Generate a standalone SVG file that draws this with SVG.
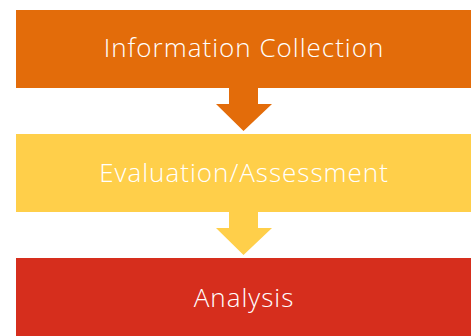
<svg xmlns="http://www.w3.org/2000/svg" width="471" height="336" viewBox="0 0 471 336">
<style>
.lbl{font-family:"Open Sans","Lato","Liberation Sans",sans-serif;font-weight:300;font-size:26px;letter-spacing:1px;fill:#ffffff;text-anchor:middle}
</style>
<rect width="471" height="336" fill="#ffffff"/>
<g id="connectors">
<polygon points="229,88 258,88 258,104 272,104 243.5,131 216,104 229,104" fill="#E36C0A"/>
<polygon points="229,212 258,212 258,228 272,228 243.5,255 216,228 229,228" fill="#FFCF4A"/>
</g>
<g id="node-information-collection">
<rect x="16" y="10" width="455" height="78" fill="#E36C0A"/>
<text class="lbl" x="244" y="57">Information Collection</text>
</g>
<g id="node-evaluation-assessment">
<rect x="16" y="134" width="455" height="78" fill="#FFCF4A"/>
<text class="lbl" x="244" y="182">Evaluation/Assessment</text>
</g>
<g id="node-analysis">
<rect x="16" y="258" width="455" height="78" fill="#D62E1D"/>
<text class="lbl" x="244" y="306.5">Analysis</text>
</g>
</svg>
